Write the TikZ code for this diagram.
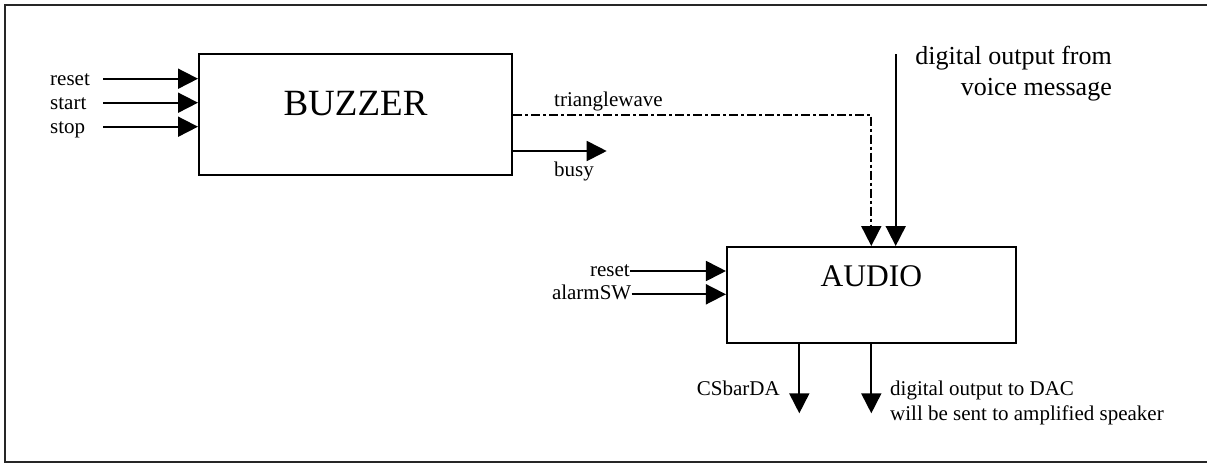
\documentclass[tikz,border=0pt]{standalone}
\usepackage{fontspec}
\setmainfont{Liberation Serif}
\usetikzlibrary{arrows.meta}
\tikzset{
  blockbox/.style={draw, line width=2pt, rectangle, inner sep=0pt},
  sig/.style={line width=1.8pt, -{Triangle[length=20pt,width=20pt]}},
  dashdot/.style={line width=1.8pt, dash pattern=on 9pt off 3pt on 3pt off 3pt},
  small/.style={inner sep=0pt, font=\fontsize{21}{24}\selectfont},
}
\begin{document}
\begin{tikzpicture}[x=1pt,y=-1pt]
\useasboundingbox (0,0) rectangle (1207,464);
\draw[line width=2pt, black!85] (5,5) rectangle (1230,462);

% BUZZER
\node[blockbox, minimum width=313pt, minimum height=121pt] (buzzer) at (355.5,114.5) {};
\node[anchor=base, inner sep=0pt, font=\fontsize{37}{40}\selectfont] (buzzertext) at (355.5,115) {BUZZER};

\node[small, anchor=base west] (lreset) at (50,85.2) {reset};
\node[small, anchor=base west] (lstart) at (50,109.2) {start};
\node[small, anchor=base west] (lstop) at (50,133.2) {stop};
\coordinate (ireset) at (103,78.7);
\coordinate (istart) at (103,102.7);
\coordinate (istop) at (103,126.7);
\draw[sig] (ireset) -- (ireset -| buzzer.west);
\draw[sig] (istart) -- (istart -| buzzer.west);
\draw[sig] (istop) -- (istop -| buzzer.west);

% AUDIO
\node[blockbox, minimum width=288.7pt, minimum height=96pt] (audio) at (871.3,295) {};
\node[anchor=base, inner sep=0pt, font=\fontsize{31.5}{34}\selectfont] (audiotext) at (871.3,286.7) {AUDIO};

\node[small, anchor=base east] (areset) at (630,276.2) {reset};
\node[small, anchor=base east] (aalarm) at (631.5,299.8) {alarmSW};
\coordinate (iareset) at (630,271);
\coordinate (iaalarm) at (631.5,294.3);
\draw[sig] (iareset) -- (iareset -| audio.west);
\draw[sig] (iaalarm) -- (iaalarm -| audio.west);

% triangle wave and busy
\coordinate (tw) at (871.3,115);
\draw[dashdot, -{Triangle[length=20pt,width=20pt]}] (tw -| buzzer.east) -- (tw) -- (tw |- audio.north);
\node[small, anchor=base west] (ltw) at (554,106.7) {trianglewave};
\coordinate (busyend) at (606.7,151);
\draw[sig] (busyend -| buzzer.east) -- (busyend);
\node[small, anchor=base west] (lbusy) at (554,176.5) {busy};

% voice message input
\coordinate (vm) at (895.7,54);
\draw[sig] (vm) -- (vm |- audio.north);
\node[anchor=base east, inner sep=0pt, font=\fontsize{26}{31}\selectfont] (lvm1) at (1112,64) {digital output from};
\node[anchor=base east, inner sep=0pt, font=\fontsize{26}{31}\selectfont] (lvm2) at (1112,95) {voice message};

% outputs
\coordinate (cs) at (799.3,413.3);
\coordinate (dac) at (871.3,413.3);
\draw[sig] (cs |- audio.south) -- (cs);
\draw[sig] (audio.south) -- (dac);
\node[small, anchor=base east] (lcs) at (780,395.7) {CSbarDA};
\node[small, anchor=base west] (ldac1) at (890,395.7) {digital output to DAC};
\node[small, anchor=base west] (ldac2) at (890,420) {will be sent to amplified speaker};
\end{tikzpicture}
\end{document}
